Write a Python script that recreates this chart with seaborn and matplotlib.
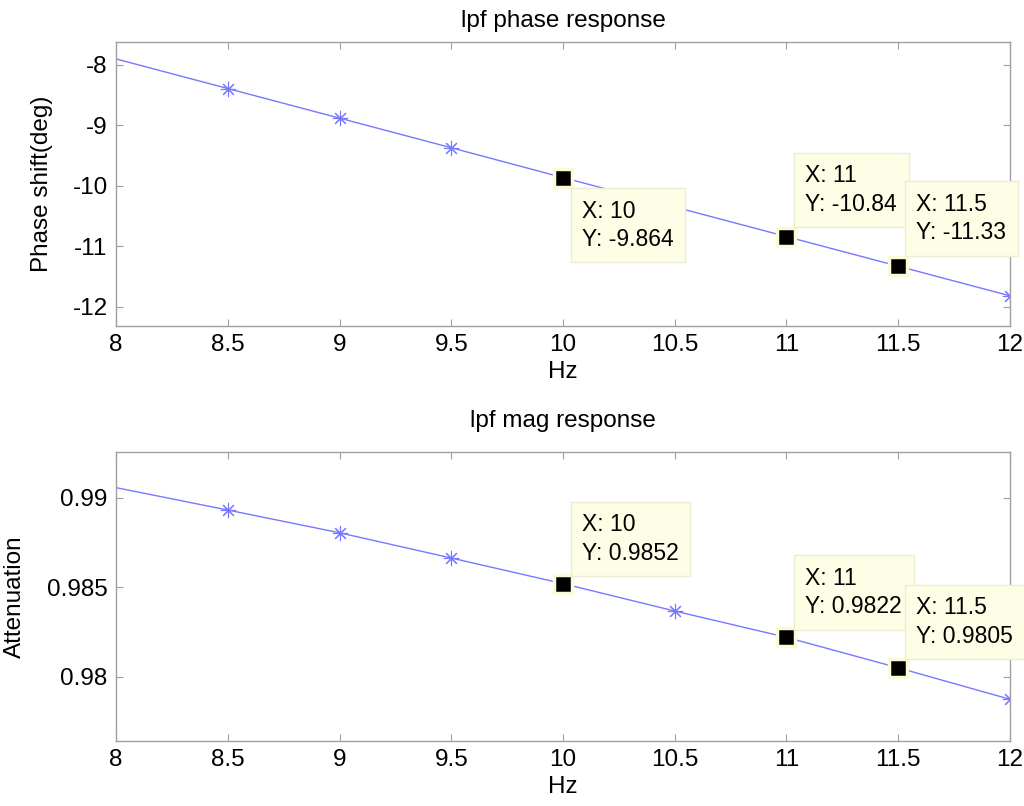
import numpy as np
import pandas as pd
import matplotlib
matplotlib.use('Agg')
import matplotlib.pyplot as plt
import seaborn as sns

# data
freq = [8, 8.5, 9, 9.5, 10, 10.5, 11, 11.5, 12]
phase = [-7.90, -8.39, -8.88, -9.37, -9.864, -10.35, -10.84, -11.33, -11.82]
mag = [0.99056, 0.98931, 0.98804, 0.98663, 0.9852, 0.98367, 0.9822, 0.9805, 0.97874]

star_freq = [8.5, 9, 9.5, 10, 10.5, 11, 11.5, 12]
tip_freq = [10, 11, 11.5]
phase_tips = [-9.864, -10.84, -11.33]
mag_tips = [0.9852, 0.9822, 0.9805]
phase_tip_text = ['X: 10\nY: -9.864', 'X: 11\nY: -10.84', 'X: 11.5\nY: -11.33']
mag_tip_text = ['X: 10\nY: 0.9852', 'X: 11\nY: 0.9822', 'X: 11.5\nY: 0.9805']

xticks = [8, 8.5, 9, 9.5, 10, 10.5, 11, 11.5, 12]
xticklabels = ['8', '8.5', '9', '9.5', '10', '10.5', '11', '11.5', '12']
phase_yticks = [-12, -11, -10, -9, -8]
mag_yticks = [0.98, 0.985, 0.99]
mag_yticklabels = ['0.98', '0.985', '0.99']

sns.set_style('white')
plt.rcParams['font.family'] = ['Liberation Sans', 'DejaVu Sans']
plt.rcParams['text.color'] = 'black'
plt.rcParams['axes.labelcolor'] = 'black'
plt.rcParams['axes.titlecolor'] = 'black'

df = pd.DataFrame({'Hz': freq, 'phase': phase, 'mag': mag})

fig = plt.figure(figsize=(10.24, 8.06), dpi=100)
ax1 = fig.add_axes([0.1133, 0.5955, 0.873, 0.3524])
ax2 = fig.add_axes([0.1133, 0.0806, 0.873, 0.3586])

line_col = '#7878ff'
grey = '#a0a0a0'
tip_face = '#fefee6'
fs = 17.5


def style_axes(ax):
    for s in ax.spines.values():
        s.set_color(grey)
        s.set_linewidth(1)
    ax.tick_params(direction='in', length=5, width=0.8, color=grey,
                   labelsize=fs, labelcolor='black', pad=6,
                   top=True, right=True, bottom=True, left=True)
    ax.set_xlim(8, 12)
    ax.set_xticks(xticks)
    ax.set_xticklabels(xticklabels)


def draw(ax, ycol, tips_y, tips_txt, offsets):
    sns.lineplot(data=df, x='Hz', y=ycol, ax=ax, color=line_col, linewidth=1)
    yv = df.set_index('Hz').loc[star_freq, ycol].values
    ax.plot(star_freq, yv, linestyle='none', marker=(8, 2, 0), markersize=11,
            markeredgewidth=0.8, color=line_col)
    ax.plot(tip_freq, tips_y, linestyle='none', marker='s', markersize=13,
            markerfacecolor='black', markeredgecolor='#fbfbd8',
            markeredgewidth=2.5, zorder=5)
    for x, y, t, (dx, dy, va) in zip(tip_freq, tips_y, tips_txt, offsets):
        ax.annotate(t, xy=(x, y), xytext=(dx, dy), textcoords='offset pixels',
                    ha='left', va=va, fontsize=16.5, linespacing=1.3,
                    bbox=dict(boxstyle='square,pad=0.5', fc=tip_face,
                              ec='#ededd6', lw=1), zorder=6,
                    annotation_clip=False)


style_axes(ax1)
draw(ax1, 'phase', phase_tips, phase_tip_text,
     [(19, -22, 'top'), (19, 21, 'bottom'), (18, 22, 'bottom')])
ax1.set_ylim(-12.32, -7.62)
ax1.set_yticks(phase_yticks)
ax1.set_yticklabels([str(v) for v in phase_yticks])
ax1.set_title('lpf phase response', fontsize=fs, pad=11)
ax1.set_xlabel('Hz', fontsize=fs, labelpad=3)
ax1.set_ylabel('Phase shift(deg)', fontsize=fs)
ax1.yaxis.set_label_coords(-0.0705, 0.5)

style_axes(ax2)
draw(ax2, 'mag', mag_tips, mag_tip_text,
     [(19, 19, 'bottom'), (19, 19, 'bottom'), (18, 20, 'bottom')])
ax2.set_ylim(0.97641, 0.99255)
ax2.set_yticks(mag_yticks)
ax2.set_yticklabels(mag_yticklabels)
ax2.set_title('lpf mag response', fontsize=fs, pad=18)
ax2.set_xlabel('Hz', fontsize=fs, labelpad=3)
ax2.set_ylabel('Attenuation', fontsize=fs)
ax2.yaxis.set_label_coords(-0.101, 0.5)

fig.savefig('out.png', dpi=100)
